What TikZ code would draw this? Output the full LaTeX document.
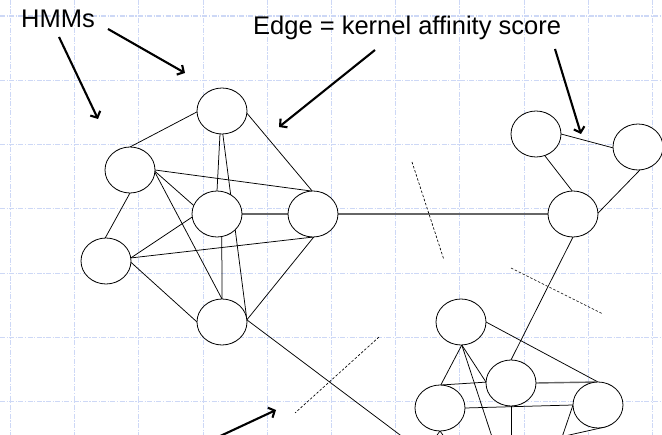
\documentclass[tikz,border=0pt]{standalone}
\usepackage{fontspec}
\setmainfont{Liberation Sans}
\usetikzlibrary{shapes.geometric,arrows.meta}
\definecolor{gridblue}{RGB}{205,216,246}
\pgfdeclarelayer{gridlayer}
\pgfdeclarelayer{edgelayer}
\pgfsetlayers{gridlayer,edgelayer,main}
\tikzset{
  hmm/.style={ellipse,draw,fill=white,line width=0.8pt,minimum width=50pt,minimum height=46pt,inner sep=0pt,outer sep=0pt},
  link/.style={line width=0.75pt},
  heavylink/.style={line width=1.4pt,draw=black!60},
  cutline/.style={line width=0.65pt,dash pattern=on 2.5pt off 1.8pt},
  pointer/.style={line width=2.1pt,-{Straight Barb[length=5pt,width=11pt,line width=2.1pt]}},
  gridline/.style={line width=1.1pt,draw=gridblue,dash pattern=on 5pt off 1.5pt on 1.2pt off 1.5pt},
  caption/.style={font=\fontsize{25.5}{29}\selectfont,inner sep=0pt,anchor=base west}
}
\begin{document}
\begin{tikzpicture}[x=1pt,y=-1pt]
\useasboundingbox (0,0) rectangle (662,435);

% white sheet and dashed background grid
\begin{pgfonlayer}{gridlayer}
\fill[white] (0,0) rectangle (662,435);
\foreach \k in {0,...,10} \draw[gridline] ({10.5+64.2*\k},0) -- ({10.5+64.2*\k},435);
\foreach \k in {0,...,6} \draw[gridline] (0,{16+64.3*\k}) -- (662,{16+64.3*\k});
\end{pgfonlayer}

% left cluster of models
\node[hmm] (A) at (222,111) {};
\node[hmm] (B) at (130,170) {};
\node[hmm] (C) at (217,214) {};
\node[hmm] (D) at (313,214) {};
\node[hmm] (E) at (106,261) {};
\node[hmm] (F) at (222,322) {};
% upper right cluster
\node[hmm] (G) at (536,134) {};
\node[hmm] (H) at (638,147) {};
\node[hmm] (I) at (573,214) {};
% lower right cluster
\node[hmm] (J) at (461,322) {};
\node[hmm] (K) at (511,383) {};
\node[hmm] (L) at (440,408) {};
\node[hmm] (M) at (598,405) {};

% loose ends running out below the frame
\coordinate (outF) at (440,465);
\coordinate (outJ) at (497,452);
\coordinate (outK) at (511,452);
\coordinate (outMa) at (557,452);
\coordinate (outMb) at (520,446);
\coordinate (outLa) at (430,445);
\coordinate (outLb) at (450,445);

\begin{pgfonlayer}{edgelayer}
% left cluster edges
\draw[link] (A.182) -- (B.90);
\draw[link] (A.265) -- (C.90);
\draw[link] (A.-88) -- (F.5);
\draw[link] (A.-5) -- (D.92);
\draw[link] (B.0) -- (D.94);
\draw[link] (B.-3) -- (C.160);
\draw[link] (B.-5) -- (F.90);
\draw[link] (B.-90) -- (E.92);
\draw[link] (E.7) -- (C.187);
\draw[link] (E.7) -- (D.-88);
\draw[link] (E.-3) -- (F.180);
\draw[link] (D.-88) -- (F.5);
\draw[link] (C.-78) -- (F.90);
\draw[heavylink] (C.0) -- (D.180);
\draw[heavylink] (D.0) -- (I.180);
\draw[link] (F.5) -- (outF);
% upper right edges
\draw[link] (G.0) -- (H.182);
\draw[link] (G.-68) -- (I.92);
\draw[link] (H.-85) -- (I.2);
\draw[link] (I.-90) -- (K.90);
% lower right edges
\draw[link] (J.-88) -- (L.88);
\draw[link] (J.-88) -- (K.178);
\draw[link] (J.-88) -- (outJ);
\draw[link] (J.0) -- (M.90);
\draw[link] (L.88) -- (K.178);
\draw[heavylink] (K.0) -- (M.90);
\draw[link] (L.0) -- (M.180);
\draw[link] (K.-90) -- (outK);
\draw[link] (M.180) -- (outMa);
\draw[link] (M.-70) -- (outMb);
\draw[link] (L.-90) -- (outLa);
\draw[link] (L.-90) -- (outLb);
\end{pgfonlayer}

% cuts across the long links
\coordinate (c1a) at (412,162); \coordinate (c1b) at (444,260);
\coordinate (c2a) at (511,268); \coordinate (c2b) at (603,314);
\coordinate (c3a) at (379,337); \coordinate (c3b) at (295,413);
\draw[cutline] (c1a) -- (c1b);
\draw[cutline] (c2a) -- (c2b);
\draw[cutline] (c3a) -- (c3b);

% captions
\node[caption] (hmms) at (21,28) {HMMs};
\node[caption] (edgecap) at (253,35) {Edge = kernel affinity score};

% pointers
\coordinate (p1s) at (59,37);  \coordinate (p1e) at (98,119);
\coordinate (p2s) at (108,29); \coordinate (p2e) at (185,73);
\coordinate (p3s) at (375,50); \coordinate (p3e) at (279,127);
\coordinate (p4s) at (555,49); \coordinate (p4e) at (581,134);
\coordinate (p5s) at (216,438); \coordinate (p5e) at (276,410);
\draw[pointer] (p1s) -- (p1e);
\draw[pointer] (p2s) -- (p2e);
\draw[pointer] (p3s) -- (p3e);
\draw[pointer] (p4s) -- (p4e);
\draw[pointer] (p5s) -- (p5e);
\end{tikzpicture}
\end{document}
